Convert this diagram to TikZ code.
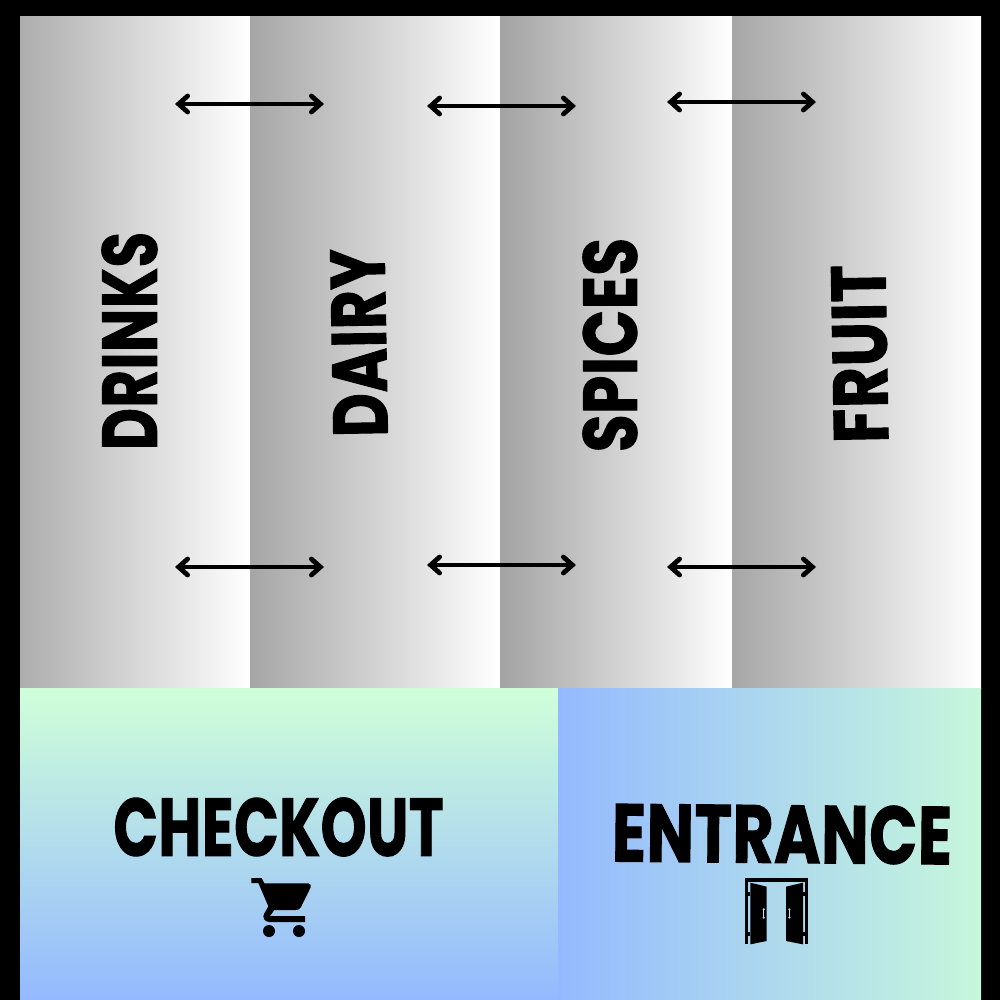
\documentclass[tikz,border=0pt]{standalone}
\usepackage{graphicx}
\usepackage{fontspec}
\setmainfont{Poppins}[BoldFeatures={FakeBold=1.5,LetterSpace=1}]
\usetikzlibrary{arrows.meta}
\definecolor{mint}{HTML}{CFFFD9}
\definecolor{sky}{HTML}{94B9FF}
\definecolor{mintb}{HTML}{C6F7DC}
\tikzset{
  aisle/.style={draw=none,left color=#1,right color=white},
  aislelabel/.style={inner sep=0pt,outer sep=0pt,text=black,font=\bfseries},
  twoway/.style={line width=2.4pt,{Straight Barb[length=4.5pt,width=8pt,line cap=round]}-{Straight Barb[length=4.5pt,width=8pt,line cap=round]},line cap=round},
  glyph/.style={fill=black,draw=none}
}
\newcommand{\fitlabel}[3]{\resizebox{#1pt}{#2pt}{#3}}
\begin{document}
\begin{tikzpicture}[x=0.5pt,y=-0.5pt]
\useasboundingbox (0,0) rectangle (1000,1000);
\fill[black] (0,0) rectangle (1000,1000);
% aisles
\shade[aisle=black!32] (20,16) rectangle (250,688);
\shade[aisle=black!35] (250,16) rectangle (500,688);
\shade[aisle=black!36] (500,16) rectangle (732,688);
\shade[aisle=black!35] (732,16) rectangle (981,688);
\fill[black] (0,0) rectangle (1000,16);
% bottom areas
\shade[draw=none,top color=mint,bottom color=sky] (20,688) rectangle (558,1000);
\shade[draw=none,left color=sky,right color=mintb] (558,688) rectangle (981,1000);
% labels
\node[aislelabel,rotate=90] (drinks) at (129.5,341) {\fitlabel{109}{27.5}{DRINKS}};
\node[aislelabel,rotate=91] (dairy) at (359,343) {\fitlabel{94}{27}{DAIRY}};
\node[aislelabel,rotate=90] (spices) at (610,345) {\fitlabel{107}{27}{SPICES}};
\node[aislelabel,rotate=91] (fruit) at (860,354) {\fitlabel{89}{27}{FRUIT}};
\node[aislelabel] (checkout) at (278.5,827) {\fitlabel{165}{29}{CHECKOUT}};
\node[aislelabel,rotate=-0.5] (entrance) at (782,834) {\fitlabel{170}{29}{ENTRANCE}};
% arrows
\coordinate (a1) at (175,104); \coordinate (b1) at (324,104);
\coordinate (a2) at (427,106); \coordinate (b2) at (576,106);
\coordinate (a3) at (667,102); \coordinate (b3) at (816,102);
\coordinate (c1) at (175,567); \coordinate (d1) at (324,567);
\coordinate (c2) at (427,565); \coordinate (d2) at (576,565);
\coordinate (c3) at (667,567); \coordinate (d3) at (816,567);
\draw[twoway] (a1) -- (b1);
\draw[twoway] (a2) -- (b2);
\draw[twoway] (a3) -- (b3);
\draw[twoway] (c1) -- (d1);
\draw[twoway] (c2) -- (d2);
\draw[twoway] (c3) -- (d3);
% cart
\begin{scope}[shift={(220,860)},x=0.16667pt,y=-0.16667pt]
\fill[glyph] (94,54) -- (125,54) -- (133,70) -- (265,70) .. controls (272,71) and (274,76) .. (272,82)
  -- (243,141) .. controls (240,147) and (235,150) .. (228,150) -- (163,150) -- (150,168) -- (255,168) -- (255,186)
  -- (148,186) .. controls (134,186) and (125,172) .. (133,160) -- (145,139) -- (115,69) -- (94,69) -- cycle;
\fill[glyph] (147,213) circle[radius=18];
\fill[glyph] (237,213) circle[radius=18];
\end{scope}
% doors
\begin{scope}[shift={(720,865)},x=0.16667pt,y=-0.16667pt]
\fill[glyph] (75,40) rectangle (264,50);
\fill[glyph] (75,40) rectangle (84,238);
\fill[glyph] (255,40) rectangle (264,238);
\fill[glyph] (91,53) -- (140,65) -- (140,228) -- (91,238) -- cycle;
\fill[glyph] (249,53) -- (198,65) -- (198,228) -- (249,238) -- cycle;
\fill[glyph] (84,82) rectangle (91,92);
\fill[glyph] (84,202) rectangle (91,212);
\fill[glyph] (249,82) rectangle (255,92);
\fill[glyph] (249,202) rectangle (255,212);
% door handles
\foreach \hx in {131,208}{
  \fill[white!70!cyan] (\hx-1.5,133) rectangle (\hx+1.5,158);
  \fill[white!70!cyan] (\hx,133) circle[radius=3.5];
  \fill[white!70!cyan] (\hx,158) circle[radius=3.5];
}
\end{scope}
\end{tikzpicture}
\end{document}
